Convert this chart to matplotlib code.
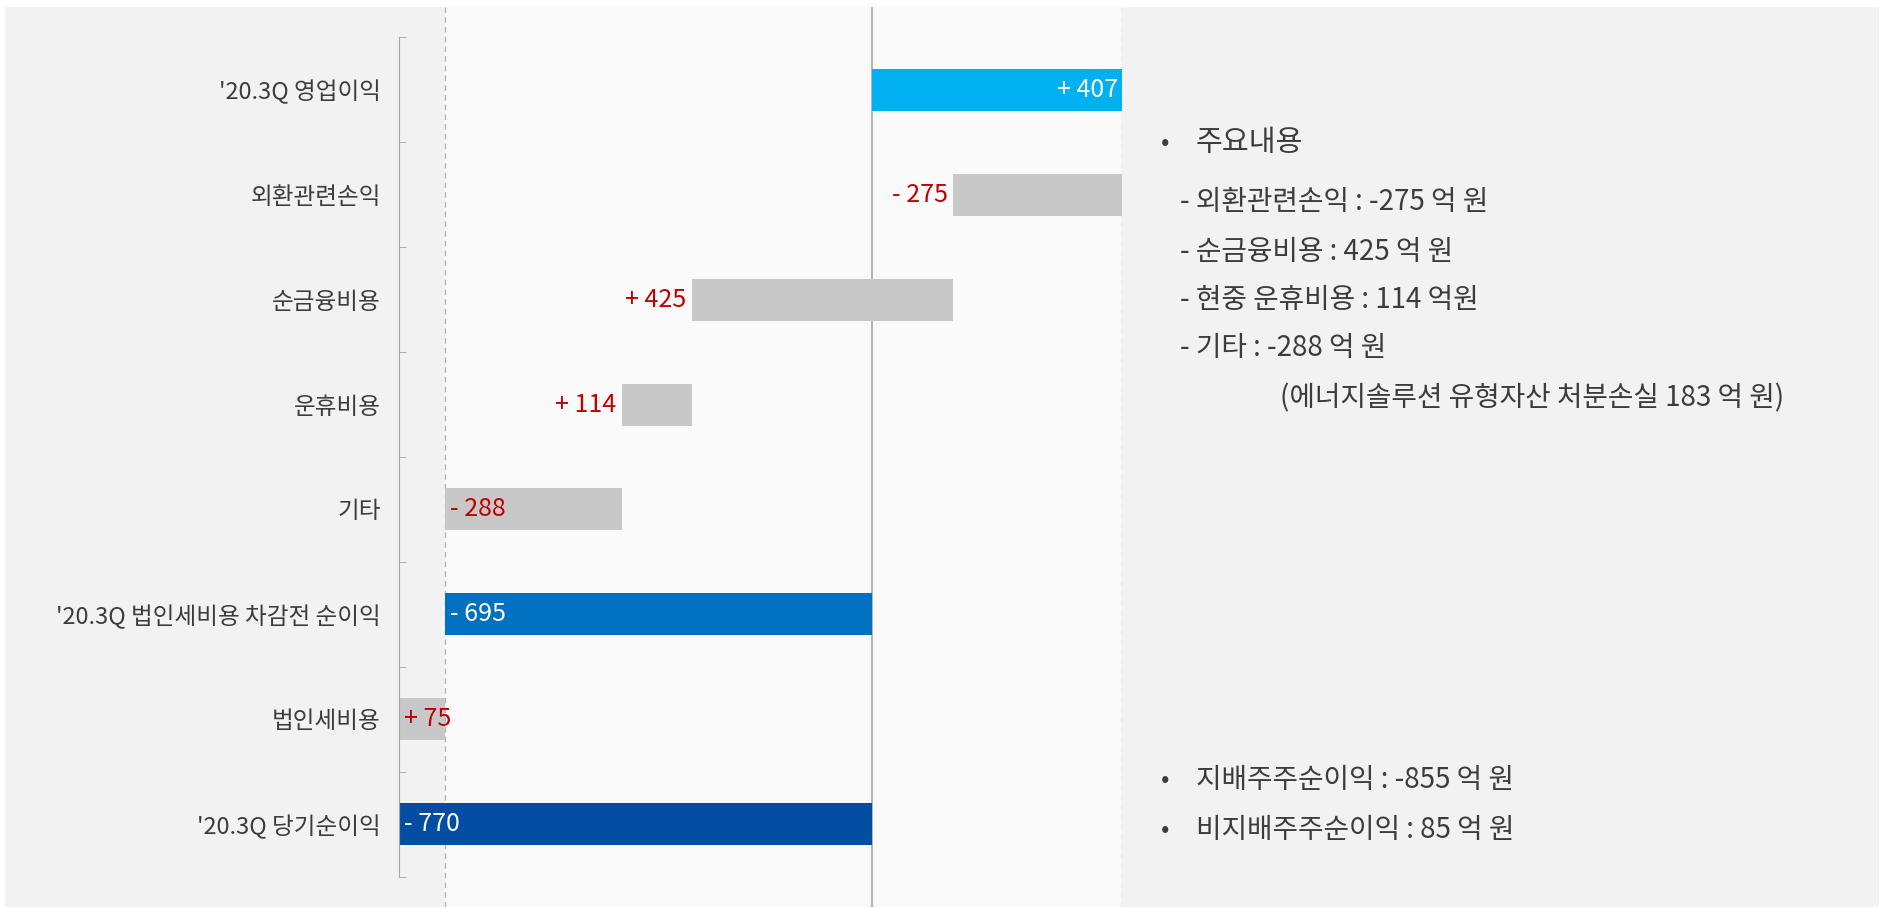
import numpy as np
import matplotlib
matplotlib.use("Agg")
from matplotlib import pyplot as plt
from matplotlib.patches import Rectangle

plt.rcParams['font.family'] = ['Noto Sans CJK KR', 'DejaVu Sans']

# data
categories = ["'20.3Q 영업이익", "외환관련손익", "순금융비용", "운휴비용", "기타",
              "'20.3Q 법인세비용 차감전 순이익", "법인세비용", "'20.3Q 당기순이익"]
amounts = [407, -275, -425, -114, -288, -695, -75, -770]
is_total = [True, False, False, False, False, True, False, True]
value_labels = ["+ 407", "- 275", "+ 425", "+ 114", "- 288", "- 695", "+ 75", "- 770"]

notes_head = "주요내용"
notes_items = ["- 외환관련손익 : -275 억 원", "- 순금융비용 : 425 억 원",
               "- 현중 운휴비용 : 114 억원", "- 기타 : -288 억 원"]
notes_sub = "(에너지솔루션 유형자산 처분손실 183 억 원)"
notes_bottom = ["지배주주순이익 : -855 억 원", "비지배주주순이익 : 85 억 원"]

# styles
bar_colors = ["#00b0f0", "#c8c8c8", "#c8c8c8", "#c8c8c8", "#c8c8c8",
              "#0070c0", "#c8c8c8", "#034ea2"]
label_pos = ["in_right", "out_left", "out_left", "out_left",
             "in_left", "in_left", "in_left", "in_left"]
text_col = "#3c3c3c"
red = "#c00000"

W, H = 1884, 909
fig = plt.figure(figsize=(W / 100, H / 100), dpi=100, facecolor="white")
fig.add_artist(Rectangle((5 / W, 1 - 907 / H), 1874 / W, 900 / H,
                         transform=fig.transFigure, facecolor="#f2f2f2",
                         edgecolor="none", zorder=-1))

ax = fig.add_axes([399 / W, 1 - 907 / H, 723 / W, 900 / H])
ax.patch.set_visible(False)

# waterfall
lefts, widths = [], []
running = 0
for amt, tot in zip(amounts, is_total):
    if tot:
        start, end = 0, amt
    else:
        start, end = running, running + amt
    running = end
    lefts.append(min(start, end))
    widths.append(abs(end - start))

y = np.arange(len(categories))
n = len(categories)
ax.set_xlim(-770, 407)
ax.set_ylim(n - 0.5 + 0.287, -0.5 - 0.287)

ax.axvspan(-695, 407, color="#fafafa", zorder=0)
ax.axvline(0, color="#a6a6a6", lw=1.2, zorder=1)
ax.axvline(-695, color="#b4b4b4", lw=1, ls=(0, (4, 3)), zorder=1)
ax.axvline(407, color="#b4b4b4", lw=1, ls=(0, (4, 3)), zorder=1)

ax.barh(y, widths, left=lefts, height=0.4, color=bar_colors, zorder=2)

fs_val = 18
for i in range(n):
    l, w = lefts[i], widths[i]
    if label_pos[i] == "in_right":
        ax.text(l + w - 7, i, value_labels[i], ha="right", va="center",
                color="white", fontsize=fs_val, zorder=3)
    elif label_pos[i] == "out_left":
        ax.text(l - 9, i, value_labels[i], ha="right", va="center",
                color=red, fontsize=fs_val, zorder=3)
    else:
        c = "white" if is_total[i] else red
        ax.text(l + 8, i, value_labels[i], ha="left", va="center",
                color=c, fontsize=fs_val, zorder=3)

# axis styling
for s in ["top", "right", "bottom"]:
    ax.spines[s].set_visible(False)
ax.spines["left"].set_color("#a6a6a6")
ax.spines["left"].set_bounds(-0.5, n - 0.5)
ax.set_xticks([])
ax.set_yticks(y)
ax.set_yticklabels(categories, fontsize=17, color=text_col)
ax.tick_params(axis="y", which="major", length=0, pad=13)
ax.set_yticks(np.arange(n + 1) - 0.5, minor=True)
ax.tick_params(axis="y", which="minor", direction="in", length=5,
               color="#a6a6a6")

# notes on the right
def ft(x, yy, s, **kw):
    fig.text(x / W, 1 - yy / H, s, va="center", color=text_col, **kw)

ft(1161, 143, "•", fontsize=18)
ft(1196, 143, notes_head, fontsize=21)
for k, s in enumerate(notes_items):
    ft(1180, [202, 252, 300, 348][k], s, fontsize=20)
ft(1280, 398, notes_sub, fontsize=20)
for k, s in enumerate(notes_bottom):
    yy = [780, 830][k]
    ft(1161, yy, "•", fontsize=18)
    ft(1196, yy, s, fontsize=20)

fig.savefig("out.png", dpi=100, facecolor="white")
